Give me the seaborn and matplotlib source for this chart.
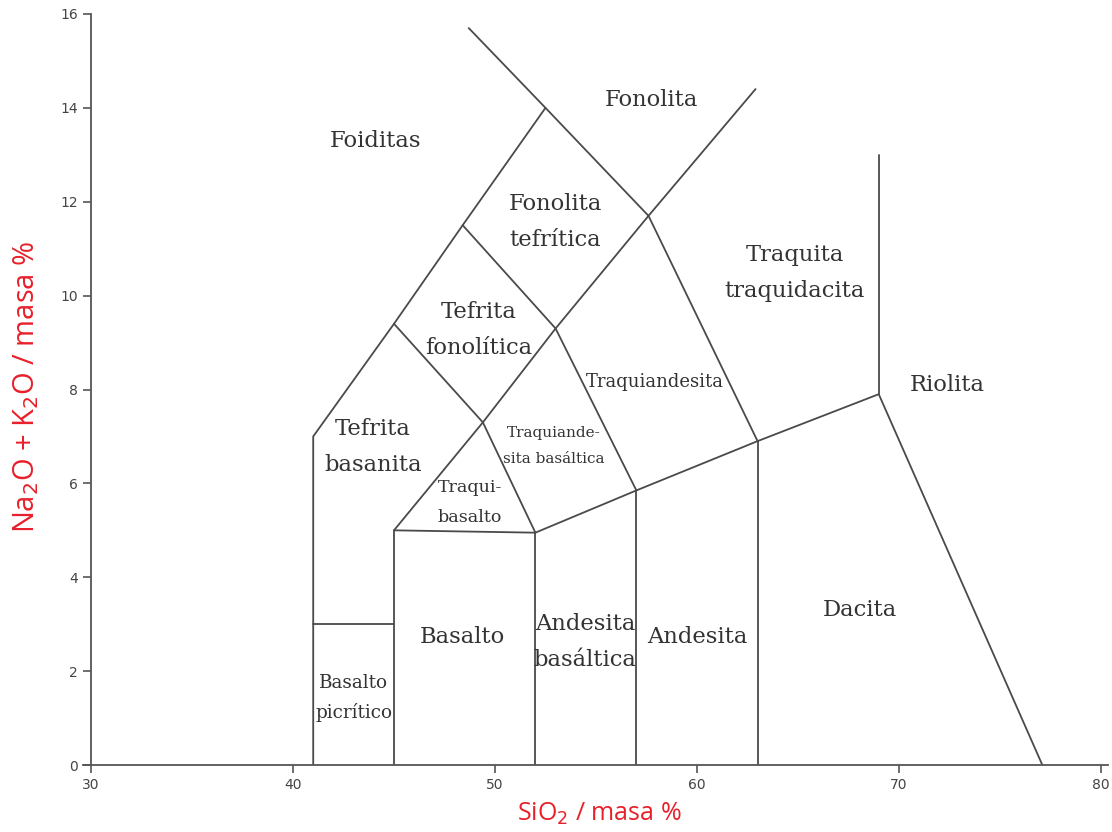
import matplotlib
matplotlib.use("Agg")
import matplotlib.pyplot as plt
import seaborn as sns
import pandas as pd

# Boundary polylines of the TAS classification (SiO2 wt%, Na2O+K2O wt%)
picro_top_si = [41, 45]
picro_top_alk = [3, 3]
outer_left_si = [41, 41, 45, 48.4, 52.5, 48.7]
outer_left_alk = [0, 7, 9.4, 11.5, 14, 15.7]
inner_ridge_si = [45, 45, 49.4, 53, 57.6, 62.9]
inner_ridge_alk = [0, 5, 7.3, 9.3, 11.7, 14.4]
base_si = [45, 52, 57, 63, 69, 77.1]
base_alk = [5, 4.95, 5.85, 6.9, 7.9, 0]
div52_si = [52, 52]
div52_alk = [0, 4.95]
div57_si = [57, 57]
div57_alk = [0, 5.85]
div63_si = [63, 63]
div63_alk = [0, 6.9]
div69_si = [69, 69]
div69_alk = [7.9, 13]
diag1_si = [45, 49.4, 52]
diag1_alk = [9.4, 7.3, 4.95]
diag2_si = [48.4, 53, 57]
diag2_alk = [11.5, 9.3, 5.85]
diag3_si = [52.5, 57.6, 63]
diag3_alk = [14, 11.7, 6.9]

boundaries = [
    (picro_top_si, picro_top_alk), (outer_left_si, outer_left_alk),
    (inner_ridge_si, inner_ridge_alk), (base_si, base_alk),
    (div52_si, div52_alk), (div57_si, div57_alk), (div63_si, div63_alk),
    (div69_si, div69_alk), (diag1_si, diag1_alk), (diag2_si, diag2_alk),
    (diag3_si, diag3_alk),
]

# Field names and label anchor points
field_names = ["Foiditas", "Fonolita", "Fonolita\ntefrítica", "Traquita\ntraquidacita",
               "Tefrita\nfonolítica", "Traquiandesita", "Riolita", "Tefrita\nbasanita",
               "Traquiande-\nsita basáltica", "Traqui-\nbasalto", "Basalto",
               "Andesita\nbasáltica", "Andesita", "Dacita", "Basalto\npicrítico"]
field_si = [44.1, 57.75, 53.0, 64.85, 49.2, 57.9, 72.4, 43.96, 52.9, 48.76,
            48.4, 54.45, 60.0, 68.07, 43.0]
field_alk = [13.3, 14.17, 11.57, 10.48, 9.27, 8.16, 8.1, 6.77, 6.8, 5.6,
             2.73, 2.62, 2.73, 3.3, 1.43]

# Label styling: font size and line spacing per field label
label_size = [16.3, 16.3, 16.3, 16.3, 16.3, 13, 16.3, 16.3, 11, 12.6, 16.3, 16.3,
              16.3, 16.3, 13.2]
label_spacing = [1.2, 1.2, 1.85, 1.85, 1.85, 1.2, 1.2, 1.85, 2.1, 2.0, 1.2, 1.85,
                 1.2, 1.2, 1.75]

x_ticks = [30, 40, 50, 60, 70, 80]
y_ticks = [0, 2, 4, 6, 8, 10, 12, 14, 16]

sns.set_style("white")
plt.rcParams["font.family"] = ["DejaVu Sans"]

fig = plt.figure(figsize=(11.12, 8.32), dpi=100)
ax = fig.add_axes([0.0746, 0.0805, 0.9218, 0.9027])

line_color = "#4a4a4a"
for si, alk in boundaries:
    df = pd.DataFrame({"SiO2": si, "alc": alk})
    sns.lineplot(data=df, x="SiO2", y="alc", sort=False, estimator=None,
                 color=line_color, linewidth=1.3, ax=ax)

for name, x, y, fs, ls in zip(field_names, field_si, field_alk, label_size, label_spacing):
    ax.text(x, y, name, ha="center", va="center", fontsize=fs,
            family=["DejaVu Serif"], color="#333333", linespacing=ls)

ax.set_xlim(29.6, 80.35)
ax.set_ylim(0, 16)
ax.spines["left"].set_position(("data", 30))
ax.spines["right"].set_visible(False)
ax.spines["top"].set_visible(False)
for s in ("left", "bottom"):
    ax.spines[s].set_color("#555555")
    ax.spines[s].set_linewidth(1.3)

ax.set_xticks(x_ticks)
ax.set_yticks(y_ticks)
ax.tick_params(axis="both", direction="out", length=6, width=1.2, color="#555555",
               labelsize=10, labelcolor="#444444", left=True, bottom=True)
for lab in ax.get_xticklabels() + ax.get_yticklabels():
    lab.set_family(["Liberation Sans Narrow", "DejaVu Sans"])

red = "#e8202a"
ax.set_xlabel("SiO$_2$ / masa %", color=red, fontsize=18, family="Open Sans")
ax.set_ylabel("Na$_2$O + K$_2$O / masa %", color=red, fontsize=21, family="Open Sans")
ax.xaxis.set_label_coords(0.504, -0.047)
ax.yaxis.set_label_coords(-0.041, 0.503)

fig.savefig("out.png", dpi=100)
